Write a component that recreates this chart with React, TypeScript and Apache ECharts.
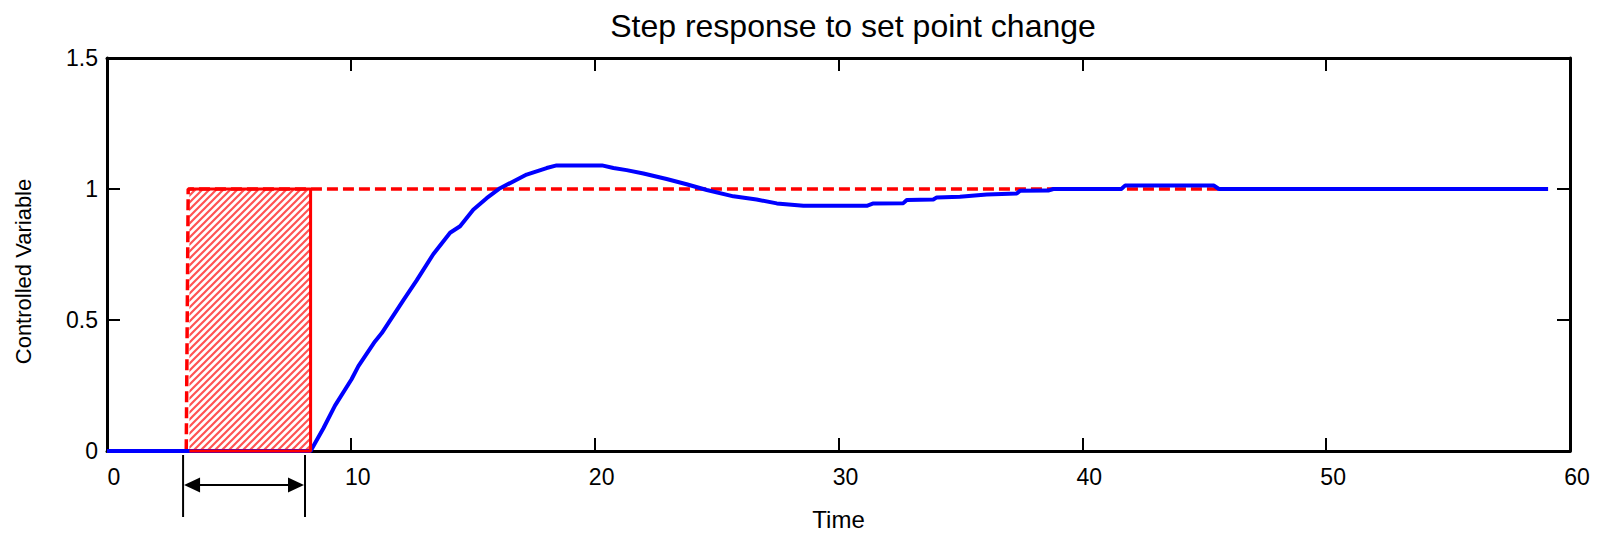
import React, { useEffect, useRef } from 'react';
import * as echarts from 'echarts';

const titleText = 'Step response to set point change';
const xAxisName = 'Time';
const yAxisName = 'Controlled Variable';
const xMin = 0;
const xMax = 60;
const xInterval = 10;
const yMin = 0;
const yMax = 1.5;
const yInterval = 0.5;

// Set point (red dashed)
const setPointTime = [0, 3.25, 3.33, 59.1];
const setPointValue = [0, 0, 1, 1];

// Controlled variable response (blue)
const responseTime = [
  0, 8.35, 8.87, 9.35, 10.03, 10.31, 10.99, 11.27, 12.15, 12.7, 13.38, 14.07, 14.48, 15.02,
  15.57, 16.12, 17.21, 18.03, 18.44, 20.3, 20.77, 21.31, 22.0, 22.95, 23.77, 24.6, 25.69,
  26.64, 27.47, 28.56, 31.16, 31.43, 32.66, 32.8, 33.89, 34.03, 34.98, 36.08, 37.31, 37.44,
  38.6, 38.81, 41.6, 41.75, 45.4, 45.6, 59.1,
];
const responseValue = [
  0, 0, 0.086, 0.173, 0.274, 0.324, 0.418, 0.45, 0.575, 0.651, 0.751, 0.833, 0.858, 0.921,
  0.965, 1.003, 1.055, 1.08, 1.09, 1.09, 1.08, 1.072, 1.059, 1.038, 1.018, 0.996, 0.972,
  0.96, 0.945, 0.936, 0.936, 0.945, 0.946, 0.958, 0.96, 0.968, 0.97, 0.979, 0.983, 0.993,
  0.994, 1.0, 1.0, 1.013, 1.013, 1.0, 1.0,
];

// Dead time box
const deadTimeStart = 3.38;
const deadTimeEnd = 8.35;
const deadBoxLow = 0;
const deadBoxHigh = 1;

// Dead time arrow annotation
const arrowStart = 3.12;
const arrowEnd = 8.12;

const FONT = '"Liberation Sans", Arial, Helvetica, sans-serif';

function zip(a: number[], b: number[]) {
  return a.map((v, i) => [v, b[i]]);
}

function makeHatch(): string {
  const s = 7;
  const c = document.createElement('canvas');
  c.width = s;
  c.height = s;
  const ctx = c.getContext('2d')!;
  ctx.fillStyle = '#ffffff';
  ctx.fillRect(0, 0, s, s);
  ctx.strokeStyle = 'rgba(255,40,40,0.8)';
  ctx.lineWidth = 2.2;
  ctx.beginPath();
  ctx.moveTo(0, s);
  ctx.lineTo(s, 0);
  ctx.moveTo(-s / 2, s / 2);
  ctx.lineTo(s / 2, -s / 2);
  ctx.moveTo(s / 2, s * 1.5);
  ctx.lineTo(s * 1.5, s / 2);
  ctx.stroke();
  return c.toDataURL();
}

export default function App() {
  const ref = useRef<HTMLDivElement>(null);

  useEffect(() => {
    if (!ref.current) return;
    const chart = echarts.init(ref.current, undefined, { renderer: 'svg' });

    const axisLine = { show: true, onZero: false, lineStyle: { color: '#000', width: 3 } };
    const axisTick = { show: true, inside: true, length: 13, lineStyle: { color: '#000', width: 2 } };

    chart.setOption({
      animation: false,
      backgroundColor: '#ffffff',
      title: {
        text: titleText,
        left: 848,
        top: 5,
        textAlign: 'center',
        textStyle: { fontSize: 32, fontWeight: 'normal', color: '#000', fontFamily: FONT },
      },
      grid: { left: 107, top: 58, right: 33, bottom: 80, containLabel: false },
      xAxis: [
        {
          type: 'value',
          min: xMin,
          max: xMax,
          interval: xInterval,
          position: 'bottom',
          name: xAxisName,
          nameLocation: 'middle',
          nameGap: 56,
          nameTextStyle: { fontSize: 24, color: '#000', fontFamily: FONT },
          axisLine,
          axisTick,
          axisLabel: { show: true, fontSize: 23, color: '#000', margin: 14, fontFamily: FONT, padding: [0, 0, 0, 14] },
          splitLine: { show: false },
        },
        {
          type: 'value',
          min: xMin,
          max: xMax,
          interval: xInterval,
          position: 'top',
          axisLine,
          axisTick,
          axisLabel: { show: false },
          splitLine: { show: false },
        },
      ],
      yAxis: [
        {
          type: 'value',
          min: yMin,
          max: yMax,
          interval: yInterval,
          position: 'left',
          name: yAxisName,
          nameLocation: 'middle',
          nameGap: 73,
          nameRotate: 90,
          nameTextStyle: { fontSize: 22, color: '#000', fontFamily: FONT, padding: [0, 34, 0, 0] },
          axisLine,
          axisTick,
          axisLabel: { show: true, fontSize: 23, color: '#000', margin: 9, fontFamily: FONT, padding: [0, 0, 6, 0] },
          splitLine: { show: false },
        },
        {
          type: 'value',
          min: yMin,
          max: yMax,
          interval: yInterval,
          position: 'right',
          axisLine,
          axisTick,
          axisLabel: { show: false },
          splitLine: { show: false },
        },
      ],
      series: [
        {
          name: 'Set point',
          type: 'line',
          xAxisIndex: 0,
          yAxisIndex: 0,
          data: zip(setPointTime, setPointValue),
          symbol: 'none',
          clip: false,
          z: 2,
          lineStyle: { color: '#ff0000', width: 3.5, type: [11, 5] },
        },
        {
          name: 'Controlled variable',
          type: 'line',
          xAxisIndex: 0,
          yAxisIndex: 0,
          data: zip(responseTime, responseValue),
          symbol: 'none',
          clip: false,
          z: 3,
          lineStyle: { color: '#0000ff', width: 4 },
        },
        {
          name: 'Dead time',
          type: 'line',
          xAxisIndex: 0,
          yAxisIndex: 0,
          data: [
            [deadTimeStart, deadBoxLow],
            [deadTimeEnd, deadBoxLow],
            [deadTimeEnd, deadBoxHigh],
            [deadTimeStart, deadBoxHigh],
          ],
          symbol: 'none',
          clip: false,
          z: 4,
          lineStyle: { color: '#ff0000', width: 3 },
          markArea: {
            silent: true,
            itemStyle: {
              color: { image: makeHatch(), repeat: 'repeat', imageWidth: 7, imageHeight: 7 },
              borderWidth: 0,
            },
            data: [[{ xAxis: deadTimeStart, yAxis: deadBoxLow }, { xAxis: deadTimeEnd, yAxis: deadBoxHigh }]],
          },
        },
      ],
    });

    const x1 = chart.convertToPixel({ xAxisIndex: 0 }, arrowStart) as number;
    const x2 = chart.convertToPixel({ xAxisIndex: 0 }, arrowEnd) as number;
    const y0 = chart.convertToPixel({ yAxisIndex: 0 }, 0) as number;
    const ay = y0 + 34;
    const black = { stroke: '#000', lineWidth: 2 };
    chart.setOption({
      graphic: [
        { type: 'line', shape: { x1, y1: y0 + 4, x2: x1, y2: y0 + 66 }, style: black },
        { type: 'line', shape: { x1: x2, y1: y0 + 4, x2, y2: y0 + 66 }, style: black },
        { type: 'line', shape: { x1: x1 + 10, y1: ay, x2: x2 - 10, y2: ay }, style: black },
        {
          type: 'polygon',
          shape: { points: [[x1 + 1, ay], [x1 + 17, ay - 7.5], [x1 + 17, ay + 7.5]] },
          style: { fill: '#000' },
        },
        {
          type: 'polygon',
          shape: { points: [[x2 - 1, ay], [x2 - 17, ay - 7.5], [x2 - 17, ay + 7.5]] },
          style: { fill: '#000' },
        },
      ],
    });

    return () => chart.dispose();
  }, []);

  return (
    <div
      ref={ref}
      style={{ position: 'fixed', left: 0, top: 0, width: 1603, height: 536, background: '#fff' }}
    />
  );
}
